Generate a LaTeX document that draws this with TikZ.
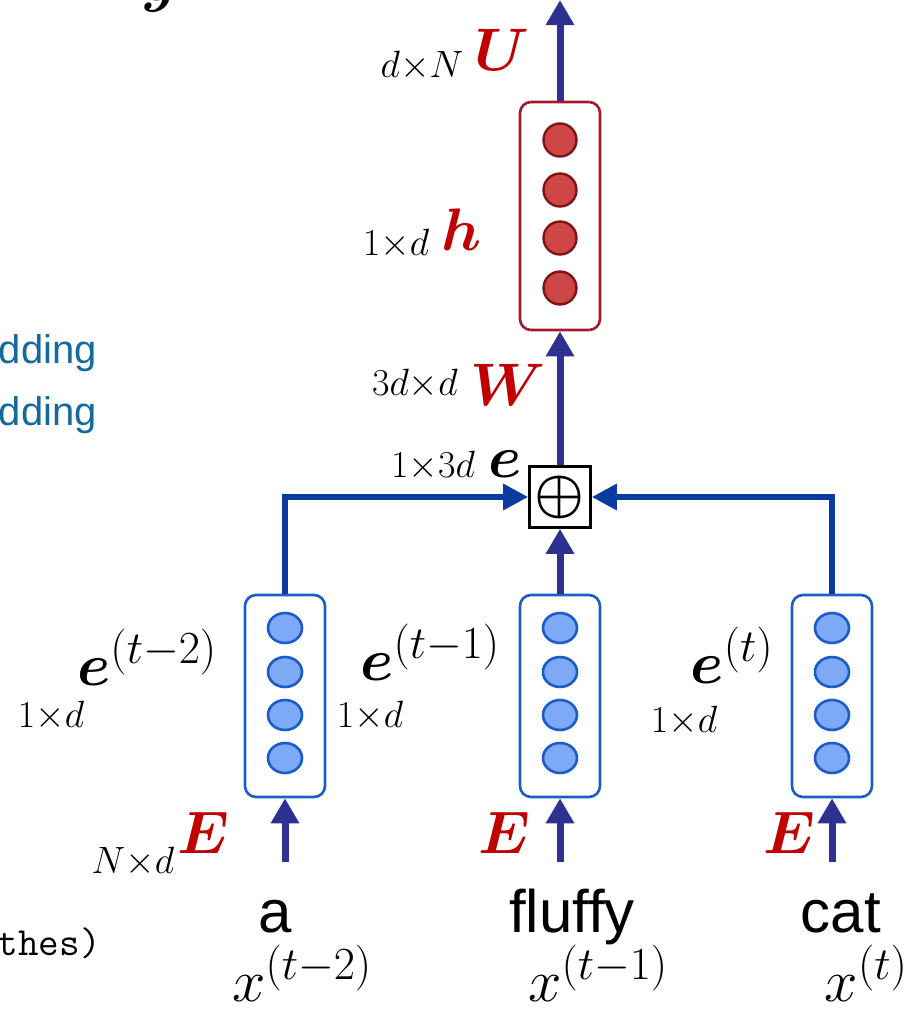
\RequirePackage{fix-cm}
\documentclass[tikz,border=0pt]{standalone}
\usepackage{amsmath,bm}
\usepackage{fontspec}
\newfontfamily\wordfont{Liberation Sans}
\usepackage{xcolor}
\usepackage{tikz}
\usetikzlibrary{positioning,arrows.meta,shapes.geometric}
\DeclareMathSizes{60}{60}{46}{34}

\definecolor{hred}{HTML}{A3192F}
\definecolor{hfill}{HTML}{CF4646}
\definecolor{hdark}{HTML}{7A1616}
\definecolor{eblue}{HTML}{1A5CC8}
\definecolor{efill}{HTML}{7DA9F7}
\definecolor{arrowblue}{HTML}{2E3192}
\definecolor{feedblue}{HTML}{0A3CA0}
\definecolor{wred}{HTML}{C00000}
\definecolor{slideblue}{HTML}{136A9C}

\begin{document}
\begin{tikzpicture}[x=1pt,y=-1pt,
vec/.style={
rectangle,rounded corners=11pt,
line width=2.6pt,
minimum width=80pt,
minimum height=202pt,
inner sep=0pt
},
hvec/.style={vec,draw=hred,minimum height=228pt},
evec/.style={vec,draw=eblue},
hunit/.style={circle,draw=hdark,fill=hfill,line width=2.4pt,minimum size=33pt,inner sep=0pt},
eunit/.style={ellipse,draw=eblue,fill=efill,line width=2.6pt,minimum width=34pt,minimum height=30pt,inner sep=0pt},
arrow/.style={draw=arrowblue,line width=7pt,-{Triangle[width=27pt,length=25pt]}},
feed/.style={draw=feedblue,line width=6pt,-{Triangle[width=25pt,length=25pt]}},
lbl/.style={inner sep=0pt,anchor=base},
dimlbl/.style={lbl,font=\fontsize{38}{38}\selectfont},
biglbl/.style={lbl,font=\fontsize{60}{60}\selectfont},
param/.style={lbl,font=\fontsize{60}{60}\selectfont,text=wred},
word/.style={lbl,font=\wordfont\fontsize{60}{60}\selectfont}
]
\useasboundingbox (0,0) rectangle (923,1015);
\clip (0,0) rectangle (923,1015);

% LEFT OVER SLIDE TEXT
\node[lbl,anchor=base west,font=\fontsize{60}{60}\selectfont] (ytail) at (140,0) {$\bm{y}$};
\node[lbl,anchor=base east,text=slideblue,font=\wordfont\fontsize{40}{40}\selectfont] (emb1) at (97,363) {dding};
\node[lbl,anchor=base east,text=slideblue,font=\wordfont\fontsize{40}{40}\selectfont] (emb2) at (97,425) {dding};
\node[lbl,anchor=base east,font=\ttfamily\fontsize{40}{40}\selectfont] (tail) at (101,955) {thes)};

% HIDDEN LAYER
\node[hvec] (h) at (560,216) {};
\foreach \k/\cy in {1/140,2/190,3/238,4/288}
  \node[hunit] (hu\k) at (560,\cy) {};
\coordinate (out) at (560,0);

\node[param] (U) at (502,70) {$\bm{U}$};
\node[dimlbl] (Udim) at (422,77) {$d{\times}N$};
\node[param] (hlbl) at (462,250) {$\bm{h}$};
\node[dimlbl] (hdim) at (396,255) {$1{\times}d$};
\node[param] (W) at (508,405) {$\bm{W}$};
\node[dimlbl] (Wdim) at (415,395) {$3d{\times}d$};

% CONCATENATION
\node[draw,line width=2.6pt,fill=white,minimum size=61pt,inner sep=0pt,
font=\fontsize{56}{56}\selectfont] (sum) at (560,497) {$\bm{\oplus}$};
\node[lbl,font=\fontsize{60}{60}\selectfont] (elbl) at (505,477) {$\bm{e}$};
\node[dimlbl] (edim) at (433,477) {$1{\times}3d$};

% EMBEDDINGS
\foreach \n/\cx in {1/285,2/560,3/832}{
  \node[evec] (e\n) at (\cx,696) {};
  \foreach \k/\cy in {1/628,2/672,3/715,4/758}
    \node[eunit] (e\n u\k) at (\cx,\cy) {};
  \coordinate (in\n) at (\cx,862);
}

\node[biglbl] (e1lbl) at (147,685) {$\bm{e}^{(t-2)}$};
\node[dimlbl] (e1dim) at (51,727) {$1{\times}d$};
\node[biglbl] (e2lbl) at (430,680) {$\bm{e}^{(t-1)}$};
\node[dimlbl] (e2dim) at (370,727) {$1{\times}d$};
\node[biglbl] (e3lbl) at (732,683) {$\bm{e}^{(t)}$};
\node[dimlbl] (e3dim) at (684,732) {$1{\times}d$};

\node[param] (E1) at (203,853) {$\bm{E}$};
\node[dimlbl] (Edim) at (133,873) {$N{\times}d$};
\node[param] (E2) at (504,853) {$\bm{E}$};
\node[param] (E3) at (789,853) {$\bm{E}$};

% INPUT WORDS
\node[word] (w1) at (275,932) {a};
\node[word] (w2) at (572,932) {fluffy};
\node[word] (w3) at (841,932) {cat};
\node[biglbl] (x1) at (302,1001) {$x^{(t-2)}$};
\node[biglbl] (x2) at (598,1001) {$x^{(t-1)}$};
\node[biglbl] (x3) at (866,1001) {$x^{(t)}$};

% ARROWS
\draw[arrow] (in1) -- (e1.south);
\draw[arrow] (in2) -- (e2.south);
\draw[arrow] (in3) -- (e3.south);
\draw[feed] (e1.north) |- (sum.west);
\draw[feed] (e3.north) |- (sum.east);
\draw[arrow] (e2.north) -- (sum.south);
\draw[arrow] (sum.north) -- (h.south);
\draw[arrow] (h.north) -- (out);

\end{tikzpicture}
\end{document}
